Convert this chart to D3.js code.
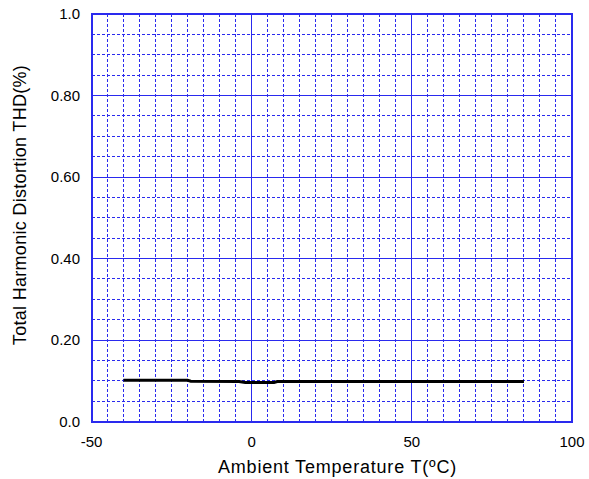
<!DOCTYPE html>
<html>
<head>
<meta charset="utf-8">
<script src="https://cdn.jsdelivr.net/npm/d3@7"></script>
<style>
  body { margin: 0; background: #fff; }
  text { font-family: "Liberation Sans", Arial, sans-serif; fill: #000; }
</style>
</head>
<body>
<svg id="chart" width="589" height="479"></svg>
<script>
// data
var temps = [-40, -20, -19, -4, -2, 7, 8, 25, 50, 85];
var thd = [0.101, 0.101, 0.099, 0.098, 0.096, 0.096, 0.098, 0.098, 0.098, 0.098];
var xTicks = [-50, 0, 50, 100];
var yTicks = [0, 0.2, 0.4, 0.6, 0.8, 1.0];
var yTickLabels = ["0.0", "0.20", "0.40", "0.60", "0.80", "1.0"];

var svg = d3.select("#chart");
// plot box (note: "top" is a reserved window name, so use plotTop etc.)
var plotLeft = 91.5, plotRight = 572, plotTop = 14, plotBottom = 421.5;

var x = d3.scaleLinear().domain([-50, 100]).range([plotLeft, plotRight]);
var y = d3.scaleLinear().domain([0, 1]).range([plotBottom, plotTop]);

var grid = svg.append("g").attr("shape-rendering", "crispEdges");
var blue = "#2a2aee";

// vertical lines every 5 degrees, solid at 0 and 50
d3.range(-45, 100, 5).forEach(function (v) {
  var major = v % 50 === 0;
  grid.append("line")
    .attr("x1", x(v)).attr("x2", x(v))
    .attr("y1", plotTop).attr("y2", plotBottom)
    .attr("stroke", blue)
    .attr("stroke-width", 1)
    .attr("stroke-dasharray", major ? null : "3,2");
});

// horizontal lines every 0.05, solid every 0.2
d3.range(1, 20).forEach(function (i) {
  var v = i * 0.05;
  var major = i % 4 === 0;
  grid.append("line")
    .attr("x1", plotLeft).attr("x2", plotRight)
    .attr("y1", y(v)).attr("y2", y(v))
    .attr("stroke", blue)
    .attr("stroke-width", 1)
    .attr("stroke-dasharray", major ? null : "3,2");
});

// frame
grid.append("rect")
  .attr("x", plotLeft).attr("y", plotTop)
  .attr("width", plotRight - plotLeft).attr("height", plotBottom - plotTop)
  .attr("fill", "none")
  .attr("stroke", blue)
  .attr("stroke-width", 2);

// the curve
var pts = temps.map(function (t, i) { return [t, thd[i]]; });
svg.append("path")
  .datum(pts)
  .attr("fill", "none")
  .attr("stroke", "#000")
  .attr("stroke-width", 3)
  .attr("d", d3.line()
    .x(function (d) { return x(d[0]); })
    .y(function (d) { return y(d[1]); }));

// tick labels
svg.selectAll(".xt").data(xTicks).enter().append("text")
  .attr("x", function (d) { return x(d); })
  .attr("y", 447)
  .attr("text-anchor", "middle")
  .attr("font-size", 15)
  .text(function (d) { return d; });

svg.selectAll(".yt").data(yTicks).enter().append("text")
  .attr("x", 80)
  .attr("y", function (d) { return y(d) + 5; })
  .attr("text-anchor", "end")
  .attr("font-size", 15)
  .text(function (d, i) { return yTickLabels[i]; });

// axis titles
svg.append("text")
  .attr("x", 337.5)
  .attr("y", 473)
  .attr("text-anchor", "middle")
  .attr("font-size", 18)
  .attr("letter-spacing", 0.8)
  .text("Ambient Temperature T(ºC)");

svg.append("text")
  .attr("transform", "translate(26,205) rotate(-90)")
  .attr("text-anchor", "middle")
  .attr("font-size", 18)
  .attr("letter-spacing", 0.3)
  .text("Total Harmonic Distortion THD(%)");
</script>
</body>
</html>
